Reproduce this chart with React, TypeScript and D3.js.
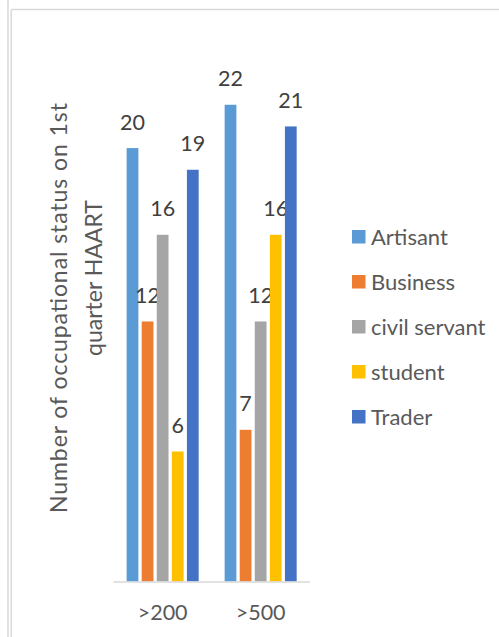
import React from "react";
import * as d3 from "d3";

const categories = [">200", ">500"];
const seriesNames = ["Artisant", "Business", "civil servant", "student", "Trader"];
const artisant = [20, 22];
const business = [12, 7];
const civilServant = [16, 12];
const student = [6, 16];
const trader = [19, 21];
const seriesValues = [artisant, business, civilServant, student, trader];
const colors = ["#5B9BD5", "#ED7D31", "#A5A5A5", "#FFC000", "#4472C4"];
const titleLines = ["Number of occupational status on 1st", "quarter HAART"];

const W = 499;
const H = 637;
const FONT = "Lato, 'Open Sans', sans-serif";

export default function App() {
  const plotLeft = 113.3;
  const plotRight = 310;
  const baseY = 581.5;
  const y = d3.scaleLinear().domain([0, 25]).range([baseY, baseY - 25 * 21.67]);
  const x0 = d3
    .scaleBand<string>()
    .domain(categories)
    .range([plotLeft, plotRight])
    .paddingInner(0.265)
    .paddingOuter(0.136);
  const x1 = d3
    .scaleBand<string>()
    .domain(seriesNames)
    .range([0, x0.bandwidth()])
    .paddingInner(0.22)
    .paddingOuter(0);

  const legendY = d3.scalePoint<string>().domain(seriesNames).range([237, 417]);

  return (
    <svg
      width={W}
      height={H}
      style={{ position: "absolute", left: 0, top: 0, display: "block", background: "#fff" }}
      fontFamily={FONT}
    >
      <rect x={0} y={0} width={W} height={H} fill="#fff" />
      {/* frame lines */}
      <line x1={8} y1={0} x2={8} y2={H} stroke="#d9d9d9" strokeWidth={1.5} />
      <line x1={11.2} y1={9.5} x2={11.2} y2={H} stroke="#d9d9d9" strokeWidth={1.5} />
      <line x1={11.2} y1={9.5} x2={W} y2={9.5} stroke="#d9d9d9" strokeWidth={1.5} />

      {/* bars */}
      {categories.map((c, ci) => (
        <g key={c} transform={`translate(${x0(c)},0)`}>
          {seriesNames.map((s, si) => {
            const v = seriesValues[si][ci];
            const bx = x1(s)!;
            return (
              <g key={s}>
                <rect
                  x={bx}
                  y={y(v)}
                  width={x1.bandwidth()}
                  height={baseY - y(v)}
                  fill={colors[si]}
                />
                <text
                  x={bx + x1.bandwidth() / 2}
                  y={y(v) - 18.5}
                  textAnchor="middle"
                  fontSize={21.5}
                  fill="#404040"
                >
                  {v}
                </text>
              </g>
            );
          })}
        </g>
      ))}

      {/* axis line */}
      <line x1={plotLeft} x2={plotRight} y1={582} y2={582} stroke="#d9d9d9" strokeWidth={1.5} />
      {categories.map((c) => (
        <text
          key={c}
          x={x0(c)! + x0.bandwidth() / 2}
          y={620}
          textAnchor="middle"
          fontSize={21.5}
          fill="#595959"
        >
          {c}
        </text>
      ))}

      {/* y axis title */}
      <text
        transform="translate(67,308) rotate(-90)"
        textAnchor="middle"
        fontSize={23}
        fill="#595959"
        textLength={410}
        lengthAdjust="spacing"
      >
        {titleLines[0]}
      </text>
      <text
        transform="translate(101.5,278) rotate(-90)"
        textAnchor="middle"
        fontSize={23}
        fill="#595959"
      >
        {titleLines[1]}
      </text>

      {/* legend */}
      {seriesNames.map((s, i) => (
        <g key={s} transform={`translate(352,${legendY(s)})`}>
          <rect x={0} y={-7} width={13.5} height={13.5} fill={colors[i]} />
          <text x={19} y={8} fontSize={22} fill="#595959">
            {s}
          </text>
        </g>
      ))}
    </svg>
  );
}
